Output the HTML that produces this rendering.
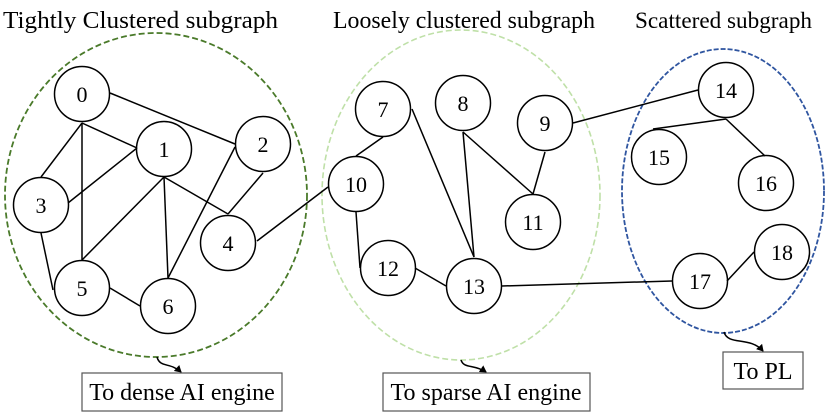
<!DOCTYPE html>
<html><head><meta charset="utf-8"><style>body{margin:0;background:#fff}svg{display:block}text{font-family:"Liberation Serif",serif}</style></head>
<body><svg width="830" height="417" viewBox="0 0 830 417" xmlns="http://www.w3.org/2000/svg">
<defs><marker id="a" markerWidth="8" markerHeight="8" refX="6" refY="4" orient="auto" markerUnits="userSpaceOnUse"><path d="M0,0 L7,4 L0,8 z" fill="#000"/></marker></defs>
<g fill="#000">
<text x="3" y="28" font-size="24" textLength="275" lengthAdjust="spacingAndGlyphs">Tightly Clustered subgraph</text>
<text x="333" y="28" font-size="24" textLength="262" lengthAdjust="spacingAndGlyphs">Loosely clustered subgraph</text>
<text x="635" y="28" font-size="23" textLength="177" lengthAdjust="spacingAndGlyphs">Scattered subgraph</text>
</g>
<ellipse cx="156" cy="195" rx="151" ry="162" fill="none" stroke="#4a7a2a" stroke-width="1.8" stroke-dasharray="6,3"/>
<ellipse cx="461" cy="195" rx="139" ry="165" fill="none" stroke="#bfe0a8" stroke-width="1.6" stroke-dasharray="6,3"/>
<ellipse cx="723" cy="191" rx="101" ry="142" fill="none" stroke="#2f55a0" stroke-width="1.8" stroke-dasharray="5,2"/>
<g stroke="#000" stroke-width="1.5" fill="none">
<line x1="110" y1="93" x2="235" y2="144"/>
<line x1="82" y1="123" x2="137" y2="148"/>
<line x1="82" y1="123" x2="41" y2="177"/>
<line x1="82" y1="123" x2="82" y2="260"/>
<line x1="68" y1="203" x2="137" y2="148"/>
<line x1="164" y1="177" x2="82" y2="260"/>
<line x1="164" y1="177" x2="168" y2="278"/>
<line x1="164" y1="177" x2="228" y2="214"/>
<line x1="235" y1="147" x2="168" y2="278"/>
<line x1="263" y1="173" x2="228" y2="214"/>
<line x1="41" y1="233" x2="53" y2="290"/>
<line x1="110" y1="288" x2="140" y2="306"/>
<line x1="257" y1="241" x2="328" y2="187"/>
<line x1="383" y1="137" x2="356" y2="156"/>
<line x1="412" y1="109" x2="474" y2="257"/>
<line x1="463" y1="132" x2="474" y2="257"/>
<line x1="463" y1="132" x2="533" y2="194"/>
<line x1="545" y1="152" x2="533" y2="194"/>
<line x1="573" y1="123" x2="698" y2="90"/>
<line x1="356" y1="212" x2="360" y2="268"/>
<line x1="415" y1="268" x2="446" y2="286"/>
<line x1="502" y1="286" x2="672" y2="281"/>
<line x1="726" y1="119" x2="653" y2="129"/>
<line x1="726" y1="119" x2="765" y2="156"/>
<line x1="727" y1="281" x2="754" y2="252"/>
<path d="M157,357 C160,368 170,362 181,372" marker-end="url(#a)"/>
<path d="M461,360 C464,369 474,364 486,372" marker-end="url(#a)"/>
<path d="M724,332 C728,346 750,336 763,351" marker-end="url(#a)"/>
</g>
<g stroke="#000" stroke-width="1.5" fill="none">
<circle cx="82" cy="94" r="27.5"/><circle cx="164" cy="149" r="27.5"/><circle cx="263" cy="144" r="27.5"/>
<circle cx="41" cy="205" r="27.5"/><circle cx="228" cy="243" r="27.5"/><circle cx="82" cy="288" r="27.5"/>
<circle cx="168" cy="306" r="27.5"/><circle cx="383" cy="109" r="27.5"/><circle cx="463" cy="103" r="27.5"/>
<circle cx="545" cy="123" r="27.5"/><circle cx="356" cy="184" r="27.5"/><circle cx="533" cy="222" r="27.5"/>
<circle cx="388" cy="268" r="27.5"/><circle cx="474" cy="286" r="27.5"/><circle cx="726" cy="90" r="27.5"/>
<circle cx="659" cy="157" r="27.5"/><circle cx="766" cy="183" r="27.5"/><circle cx="700" cy="281" r="27.5"/>
<circle cx="782" cy="252" r="27.5"/>
</g>
<g font-size="22" text-anchor="middle" fill="#000">
<text x="82" y="102">0</text><text x="164" y="157">1</text><text x="263" y="152">2</text>
<text x="41" y="213">3</text><text x="228" y="251">4</text><text x="82" y="296">5</text>
<text x="168" y="314">6</text><text x="383" y="117">7</text><text x="463" y="111">8</text>
<text x="545" y="131">9</text><text x="356" y="192">10</text><text x="533" y="230">11</text>
<text x="388" y="276">12</text><text x="474" y="294">13</text><text x="726" y="98">14</text>
<text x="659" y="165">15</text><text x="766" y="191">16</text><text x="700" y="289">17</text>
<text x="782" y="260">18</text>
</g>
<g fill="#fff" stroke="#555" stroke-width="1.2">
<rect x="82" y="373" width="200" height="38"/><rect x="383" y="373" width="207" height="38"/><rect x="723" y="352" width="80" height="37"/>
</g>
<g font-size="24" text-anchor="middle" fill="#000">
<text x="182" y="400">To dense AI engine</text>
<text x="486" y="400">To sparse AI engine</text>
<text x="763" y="379">To PL</text>
</g>
</svg></body></html>
